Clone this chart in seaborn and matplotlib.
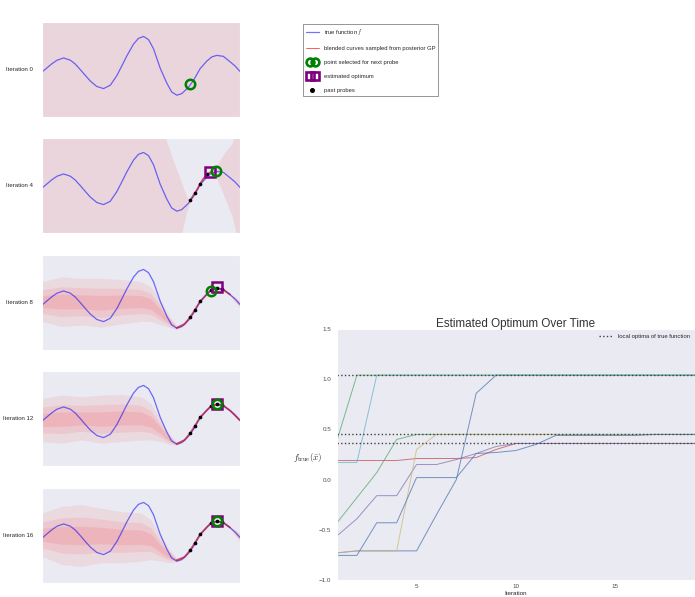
import numpy as np
import matplotlib.pyplot as plt
import seaborn as sns
from matplotlib.lines import Line2D
from matplotlib.legend_handler import HandlerLine2D

sns.set_style("darkgrid")
plt.rcParams['font.family'] = ['Liberation Sans', 'DejaVu Sans']
plt.rcParams['mathtext.fontset'] = 'cm'

# true function
true_x = [0.000, 0.025, 0.050, 0.076, 0.109, 0.143, 0.168, 0.193, 0.218, 0.244, 0.277, 0.311,
          0.345, 0.378, 0.403, 0.429, 0.462, 0.487, 0.513, 0.538, 0.563, 0.597, 0.630, 0.655,
          0.681, 0.706, 0.739, 0.765, 0.798, 0.832, 0.857, 0.882, 0.916, 0.950, 0.975, 1.000]
true_y = [-0.07, 0.06, 0.19, 0.30, 0.37, 0.30, 0.18, 0.01, -0.17, -0.35, -0.52, -0.585,
          -0.48, -0.18, 0.12, 0.44, 0.80, 0.98, 1.04, 0.94, 0.66, 0.05, -0.41, -0.69,
          -0.79, -0.74, -0.55, -0.33, 0.03, 0.27, 0.40, 0.45, 0.42, 0.25, 0.12, -0.05]

# spread of the sampled posterior curves (lower / upper edge) per iteration
it0_x = [0.0, 1.0]
it0_lo = [-2.0, -2.0]
it0_hi = [2.0, 2.0]

it4_x = [0.0, 0.60, 0.63, 0.67, 0.706, 0.73, 0.748, 0.76, 0.773, 0.785, 0.798, 0.815, 0.835,
         0.85, 0.88, 0.92, 0.96, 1.0]
it4_lo = [-2.0, -2.0, -2.0, -2.0, -1.46, -0.84, -0.47, -0.38, -0.23, -0.14, 0.05, 0.17, 0.35,
          0.38, 0.27, -0.33, -0.95, -2.0]
it4_hi = [2.0, 2.0, 1.38, 0.67, 0.09, -0.33, -0.43, -0.30, -0.20, -0.06, 0.07, 0.27, 0.37,
          0.46, 0.61, 1.02, 1.33, 2.0]

it8_x = [0.0, 0.1, 0.2, 0.3, 0.4, 0.5, 0.55, 0.6, 0.64, 0.68, 0.72, 0.748, 0.773, 0.798, 0.85,
         0.88, 0.91, 0.95, 1.0]
it8_lo = [-0.58, -0.74, -0.69, -0.76, -0.66, -0.58, -0.58, -0.69, -0.76, -0.84, -0.70, -0.46,
          -0.22, 0.03, 0.37, 0.44, 0.42, 0.22, -0.17]
it8_hi = [0.66, 0.81, 0.76, 0.76, 0.73, 0.66, 0.50, 0.04, -0.38, -0.72, -0.62, -0.44, -0.20,
          0.05, 0.39, 0.46, 0.44, 0.30, 0.07]

it12_x = [0.0, 0.1, 0.2, 0.3, 0.4, 0.5, 0.55, 0.6, 0.64, 0.68, 0.72, 0.748, 0.773, 0.798, 0.85,
          0.88, 0.91, 0.95, 1.0]
it12_lo = [-0.71, -0.76, -0.66, -0.76, -0.71, -0.66, -0.66, -0.71, -0.79, -0.83, -0.70, -0.46,
           -0.22, 0.03, 0.37, 0.44, 0.42, 0.23, -0.09]
it12_hi = [0.64, 0.74, 0.69, 0.74, 0.76, 0.69, 0.48, -0.04, -0.45, -0.73, -0.62, -0.44, -0.20,
           0.05, 0.39, 0.46, 0.44, 0.29, -0.01]

it16_x = [0.0, 0.1, 0.2, 0.3, 0.4, 0.5, 0.55, 0.6, 0.64, 0.68, 0.72, 0.748, 0.773, 0.798, 0.85,
          0.88, 0.91, 0.95, 1.0]
it16_lo = [-0.64, -0.90, -0.95, -0.84, -0.84, -0.79, -0.74, -0.79, -0.84, -0.82, -0.70, -0.46,
           -0.22, 0.03, 0.37, 0.44, 0.42, 0.22, -0.20]
it16_hi = [0.71, 0.92, 0.97, 0.86, 0.76, 0.71, 0.50, -0.02, -0.38, -0.70, -0.62, -0.44, -0.20,
           0.05, 0.39, 0.46, 0.44, 0.30, 0.08]

# probes, next probe and estimated optimum per iteration
it0_probe_x, it0_probe_y = [], []
it4_probe_x = [0.748, 0.773, 0.798, 0.835]
it4_probe_y = [-0.45, -0.21, 0.06, 0.36]
it8_probe_x = [0.748, 0.773, 0.798, 0.852, 0.882, 0.91]
it8_probe_y = [-0.45, -0.21, 0.06, 0.39, 0.45, 0.43]
it12_probe_x = [0.748, 0.773, 0.798, 0.852, 0.882, 0.91]
it12_probe_y = [-0.45, -0.21, 0.06, 0.39, 0.45, 0.43]
it16_probe_x = [0.748, 0.773, 0.798, 0.852, 0.882, 0.91]
it16_probe_y = [-0.45, -0.21, 0.06, 0.39, 0.45, 0.43]

next_x = [0.748, 0.879, 0.852, 0.882, 0.882]
next_y = [-0.45, 0.45, 0.38, 0.45, 0.45]
opt_x = [None, 0.849, 0.882, 0.882, 0.882]
opt_y = [None, 0.42, 0.50, 0.45, 0.45]

iteration_names = ['Iteration 0', 'Iteration 4', 'Iteration 8', 'Iteration 12', 'Iteration 16']

# estimated optimum over time, one run per line
iterations = list(range(1, 20))
run_1 = [-0.73, -0.71, -0.71, -0.71, -0.71, -0.35, 0.00, 0.86] + [1.04] * 11
run_2 = [-0.43, -0.18, 0.07, 0.40] + [0.45] * 15
run_3 = [0.19, 0.19, 0.19, 0.19, 0.21, 0.21, 0.21, 0.22, 0.30] + [0.36] * 10
run_4 = [-0.56, -0.39, -0.16, -0.16, 0.15, 0.15, 0.20, 0.26, 0.33] + [0.36] * 10
run_5 = [-0.73, -0.71, -0.71, -0.71, 0.30] + [0.45] * 14
run_6 = [0.17, 0.17] + [1.04] * 17
run_7 = [-0.755, -0.755, -0.43, -0.43, 0.02, 0.02, 0.02, 0.26, 0.27, 0.29, 0.35,
         0.44, 0.44, 0.44, 0.44, 0.44, 0.45, 0.45, 0.45]
run_8 = [0.39] + [1.04] * 18
local_optima = [1.04, 0.45, 0.36]

old_deep = ["#4C72B0", "#55A868", "#C44E52", "#8172B2", "#CCB974", "#64B5CD"]

W, H = 695, 597
fig = plt.figure(figsize=(W / 100, H / 100), dpi=100)

bands = [(it0_x, it0_lo, it0_hi), (it4_x, it4_lo, it4_hi), (it8_x, it8_lo, it8_hi),
         (it12_x, it12_lo, it12_hi), (it16_x, it16_lo, it16_hi)]
probes = [(it0_probe_x, it0_probe_y), (it4_probe_x, it4_probe_y), (it8_probe_x, it8_probe_y),
          (it12_probe_x, it12_probe_y), (it16_probe_x, it16_probe_y)]
tops = [22, 138, 255, 371, 488]

for i in range(5):
    ax = fig.add_axes([42 / W, 1 - (tops[i] + 95) / H, 198 / W, 95 / H])
    bx, lo, hi = (np.asarray(a, dtype=float) for a in bands[i])
    mid = (lo + hi) / 2
    half = (hi - lo) / 2
    if i < 2:
        layers = [(1.0, 0.085)]
    else:
        layers = [(1.0, 0.07), (0.6, 0.08), (0.3, 0.09)]
    for k, a in layers:
        ax.fill_between(bx, mid - k * half, mid + k * half, color='r', alpha=a, lw=0)
    ax.plot(true_x, true_y, color='b', alpha=0.55, lw=0.9)
    tight = np.where(half < 0.1, mid, np.nan)
    ax.plot(bx, tight, color='#c0143c', alpha=0.7, lw=1.3)
    px, py = probes[i]
    if px:
        ax.scatter(px, py, s=7, color='k', zorder=5, lw=0)
    if opt_x[i] is not None:
        ax.plot(opt_x[i], opt_y[i], 's', ms=7, mfc='none', mec='purple', mew=1.8, zorder=6)
    ax.plot(next_x[i], next_y[i], 'o', ms=6.8, mfc='none', mec='green', mew=1.8, zorder=7)
    ax.set_xlim(0, 1)
    ax.set_ylim(-1.47, 1.49)
    ax.set_xticks([])
    ax.set_yticks([])
    ax.grid(False)
    ax.set_ylabel(iteration_names[i], rotation=0, ha='right', va='center', fontsize=4.3)
    ax.yaxis.set_label_coords(-0.045, 0.5)

# legend for the panels
h_true = Line2D([], [], color='b', alpha=0.55, lw=0.9)
h_gp = Line2D([], [], color='r', alpha=0.75, lw=0.6)
h_next = Line2D([], [], marker='o', ls='none', ms=5.6, mfc='none', mec='green', mew=1.9)
h_opt = Line2D([], [], marker='s', ls='none', ms=5.6, mfc='none', mec='purple', mew=1.9)
h_probe = Line2D([], [], marker='o', ls='none', ms=2.6, color='k')
labels = ['true function $f$', 'blended curves sampled from posterior GP',
          'point selected for next probe', 'estimated optimum', 'past probes']
leg = fig.legend([h_true, h_gp, h_next, h_opt, h_probe], labels, loc='upper left',
                 bbox_to_anchor=(303 / W, 1 - 24 / H), borderaxespad=0, fontsize=4.2,
                 frameon=True, labelspacing=1.55, borderpad=0.45, handlelength=2.3,
                 handletextpad=0.8, fancybox=False,
                 handler_map={h_next: HandlerLine2D(numpoints=2, marker_pad=0.75),
                              h_opt: HandlerLine2D(numpoints=2, marker_pad=0.75),
                              h_probe: HandlerLine2D(numpoints=1)})
leg.get_frame().set_edgecolor('0.4')
leg.get_frame().set_linewidth(0.6)
leg.get_frame().set_facecolor('white')

# estimated optimum over time
ax = fig.add_axes([337 / W, 1 - 580 / H, 358 / W, 251 / H])
runs = [run_1, run_2, run_3, run_4, run_5, run_6, run_7, run_8]
for j, run in enumerate(runs):
    sns.lineplot(x=iterations, y=run, ax=ax, color=old_deep[j % 6], lw=0.7, alpha=0.75)
for k, v in enumerate(local_optima):
    ax.axhline(v, color='0.25', ls=':', lw=1.0,
               label='local optima of true function' if k == 0 else None)
ax.set_xlim(1, 19)
ax.set_ylim(-1.0, 1.5)
ax.set_xticks([5, 10, 15])
ax.set_yticks([-1.0, -0.5, 0.0, 0.5, 1.0, 1.5])
ax.tick_params(labelsize=4.5, colors='0.3')
ax.tick_params(axis='x', pad=-0.8)
ax.tick_params(axis='y', pad=0.8)
ax.grid(False)
ax.set_title('Estimated Optimum Over Time', fontsize=8.4, pad=1.5, color='0.2')
ax.set_xlabel('Iteration', fontsize=4.5, va='top')
ax.xaxis.set_label_coords(0.5, -0.042)
ax.set_ylabel(r'$f_{\rm true}(\bar{x})$', rotation=0, ha='right', va='center', fontsize=6.5)
ax.yaxis.set_label_coords(-0.04, 0.49)
ax.legend(loc='upper right', frameon=False, fontsize=4.2, handlelength=2.5)

fig.savefig('out.png', dpi=100)
